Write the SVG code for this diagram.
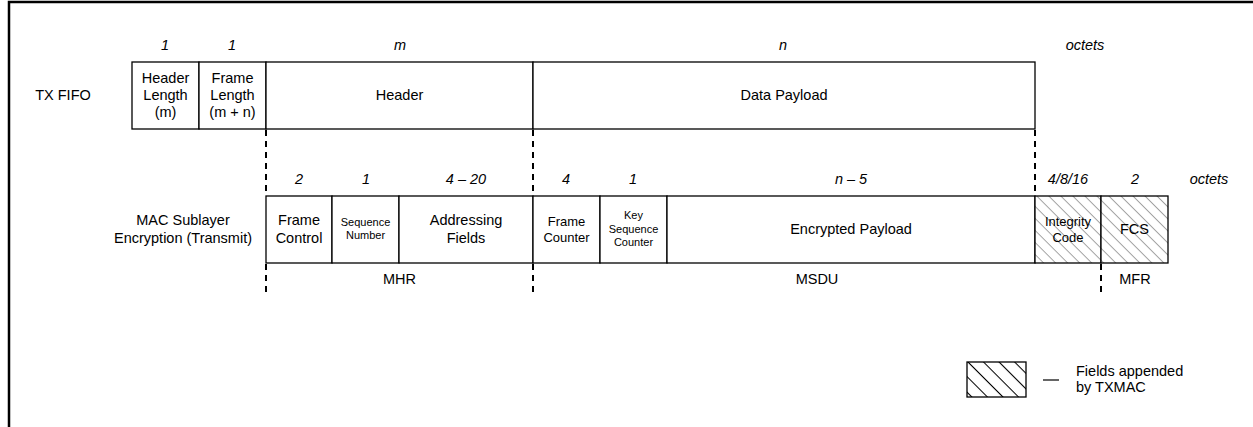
<svg xmlns="http://www.w3.org/2000/svg" width="1253" height="427" viewBox="0 0 1253 427">
<style>
.t{font-family:"Liberation Sans",Arial,sans-serif;font-size:14.5px;fill:#000;text-anchor:middle}
.i{font-style:italic}
.s13{font-size:13px}
.s11{font-size:11px}
.box{fill:#fff;stroke:#000;stroke-width:1.3}
.hb{fill:url(#hatch);stroke:#000;stroke-width:1.3}
.dash{stroke:#000;stroke-width:2;stroke-dasharray:6 5;fill:none}
</style>
<defs>
<pattern id="hatch" patternUnits="userSpaceOnUse" width="8.5" height="8.5" patternTransform="rotate(45)">
<rect width="8.5" height="8.5" fill="#fff"/>
<line x1="0" y1="0.5" x2="8.5" y2="0.5" stroke="#9a9a9a" stroke-width="0.9"/>
</pattern>
<pattern id="hatchL" patternUnits="userSpaceOnUse" width="11" height="11" patternTransform="rotate(45)">
<rect width="11" height="11" fill="#fff"/>
<line x1="0" y1="0.5" x2="11" y2="0.5" stroke="#000" stroke-width="1.1"/>
</pattern>
</defs>
<rect width="1253" height="427" fill="#fff"/>
<path d="M9 427 V2 H1253" fill="none" stroke="#000" stroke-width="2.5"/>

<g id="sizes-top">
<text class="t i" x="165" y="50">1</text>
<text class="t i" x="232" y="50">1</text>
<text class="t i" x="400" y="50">m</text>
<text class="t i" x="783" y="50">n</text>
<text class="t i" x="1085" y="50">octets</text>
</g>
<g id="txfifo-label"><text class="t" x="63" y="100">TX FIFO</text></g>
<g id="header-length">
<rect class="box" x="132" y="62" width="67" height="67"/>
<text class="t" x="165.5" y="83">Header</text>
<text class="t" x="165.5" y="100">Length</text>
<text class="t" x="165.5" y="117">(m)</text>
</g>
<g id="frame-length">
<rect class="box" x="199" y="62" width="67" height="67"/>
<text class="t" x="232.5" y="83">Frame</text>
<text class="t" x="232.5" y="100">Length</text>
<text class="t" x="232.5" y="117">(m + n)</text>
</g>
<g id="header">
<rect class="box" x="266" y="62" width="267" height="67"/>
<text class="t" x="399.5" y="100">Header</text>
</g>
<g id="data-payload">
<rect class="box" x="533" y="62" width="502" height="67"/>
<text class="t" x="784" y="100">Data Payload</text>
</g>

<g id="sizes-bottom">
<text class="t i" x="299" y="184">2</text>
<text class="t i" x="366" y="184">1</text>
<text class="t i" x="466" y="184">4 – 20</text>
<text class="t i" x="566" y="184">4</text>
<text class="t i" x="633" y="184">1</text>
<text class="t i" x="851" y="184">n – 5</text>
<text class="t i" x="1068" y="184">4/8/16</text>
<text class="t i" x="1135" y="184">2</text>
<text class="t i" x="1209" y="184">octets</text>
</g>
<g id="mac-label">
<text class="t" x="183" y="225">MAC Sublayer</text>
<text class="t" x="183" y="243">Encryption (Transmit)</text>
</g>
<g id="frame-control">
<rect class="box" x="266" y="196" width="66" height="67"/>
<text class="t" x="299" y="225">Frame</text>
<text class="t" x="299" y="243">Control</text>
</g>
<g id="sequence-number">
<rect class="box" x="332" y="196" width="67" height="67"/>
<text class="t s11" x="365.5" y="226">Sequence</text>
<text class="t s11" x="365.5" y="239">Number</text>
</g>
<g id="addressing-fields">
<rect class="box" x="399" y="196" width="134" height="67"/>
<text class="t" x="466" y="225">Addressing</text>
<text class="t" x="466" y="243">Fields</text>
</g>
<g id="frame-counter">
<rect class="box" x="533" y="196" width="67" height="67"/>
<text class="t s13" x="566.5" y="226">Frame</text>
<text class="t s13" x="566.5" y="242">Counter</text>
</g>
<g id="key-sequence-counter">
<rect class="box" x="600" y="196" width="67" height="67"/>
<text class="t s11" x="633.5" y="219">Key</text>
<text class="t s11" x="633.5" y="233">Sequence</text>
<text class="t s11" x="633.5" y="246">Counter</text>
</g>
<g id="encrypted-payload">
<rect class="box" x="667" y="196" width="368" height="67"/>
<text class="t" x="851" y="234">Encrypted Payload</text>
</g>
<g id="integrity-code">
<rect class="hb" x="1035" y="196" width="66" height="67"/>
<text class="t s13" x="1068" y="226">Integrity</text>
<text class="t s13" x="1068" y="242">Code</text>
</g>
<g id="fcs">
<rect class="hb" x="1101" y="196" width="67" height="67"/>
<text class="t" x="1134.5" y="234">FCS</text>
</g>
<g id="group-labels">
<text class="t" x="399.5" y="284">MHR</text>
<text class="t" x="817" y="284">MSDU</text>
<text class="t" x="1135" y="284">MFR</text>
</g>

<g id="connectors">
<line class="dash" x1="266" y1="130" x2="266" y2="196"/>
<line class="dash" x1="533" y1="130" x2="533" y2="196"/>
<line class="dash" x1="1035" y1="130" x2="1035" y2="196"/>
<line class="dash" x1="266" y1="264" x2="266" y2="297"/>
<line class="dash" x1="533" y1="264" x2="533" y2="297"/>
<line class="dash" x1="1101" y1="264" x2="1101" y2="297"/>
</g>

<g id="legend">
<rect x="967" y="362" width="59" height="35" fill="url(#hatchL)" stroke="#000" stroke-width="1.3"/>
<line x1="1043" y1="380" x2="1059" y2="380" stroke="#000" stroke-width="1.2"/>
<text class="t" x="1076" y="376" style="text-anchor:start">Fields appended</text>
<text class="t" x="1076" y="392" style="text-anchor:start">by TXMAC</text>
</g>
</svg>
